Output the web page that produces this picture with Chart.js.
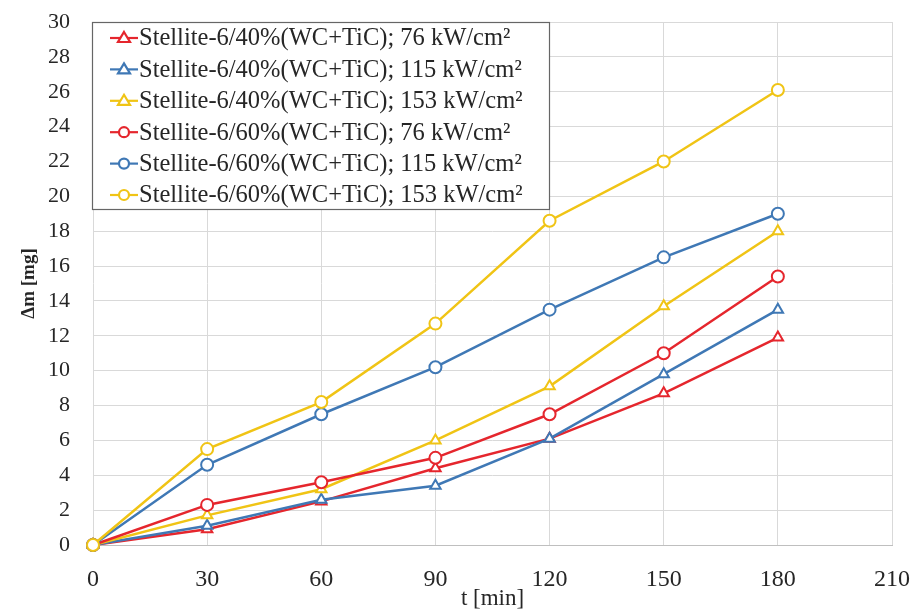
<!DOCTYPE html>
<html>
<head>
<meta charset="utf-8">
<script src="https://cdn.jsdelivr.net/npm/chart.js@4/dist/chart.umd.min.js"></script>
<style>
  html, body { margin: 0; padding: 0; background: #fff; }
  #wrap { width: 915px; height: 613px; position: relative; }
</style>
</head>
<body>
<div id="wrap"><canvas id="my"></canvas></div>
<script>
// time axis [min]
const times = [0, 30, 60, 90, 120, 150, 180];

// mass loss [mg]
const s40_76  = [0, 0.9, 2.5, 4.4, 6.1, 8.7, 11.9];
const s40_115 = [0, 1.1, 2.6, 3.4, 6.1, 9.8, 13.5];
const s40_153 = [0, 1.7, 3.2, 6.0, 9.1, 13.7, 18.0];
const s60_76  = [0, 2.3, 3.6, 5.0, 7.5, 11.0, 15.4];
const s60_115 = [0, 4.6, 7.5, 10.2, 13.5, 16.5, 19.0];
const s60_153 = [0, 5.5, 8.2, 12.7, 18.6, 22.0, 26.1];

const labels = [
  'Stellite-6/40%(WC+TiC); 76 kW/cm²',
  'Stellite-6/40%(WC+TiC); 115 kW/cm²',
  'Stellite-6/40%(WC+TiC); 153 kW/cm²',
  'Stellite-6/60%(WC+TiC); 76 kW/cm²',
  'Stellite-6/60%(WC+TiC); 115 kW/cm²',
  'Stellite-6/60%(WC+TiC); 153 kW/cm²'
];

const red = '#e5262d', blue = '#3f78b5', gold = '#f0c415';
const serif = '"Liberation Serif", "Times New Roman", serif';

function mk(label, vals, color, shape, idx) {
  return {
    label: label,
    data: times.map((t, i) => ({ x: t, y: vals[i] })),
    borderColor: color,
    backgroundColor: '#fff',
    borderWidth: 2.5,
    pointStyle: shape,
    pointRadius: 6,
    pointBorderWidth: 2,
    pointBackgroundColor: '#fff',
    pointBorderColor: color,
    tension: 0,
    clip: false,
    order: 5 - idx  // later series on top, as in the original
  };
}

// legend drawn inside the plot area (top-left), like the original
const innerLegend = {
  id: 'innerLegend',
  afterDraw(chart) {
    const c = chart.ctx, a = chart.chartArea;
    const x0 = a.left - 1, y0 = a.top, w = 457, rowH = 31.4, h = 187;
    c.save();
    c.fillStyle = '#fff';
    c.fillRect(x0, y0, w, h);
    c.strokeStyle = '#666';
    c.lineWidth = 1.2;
    c.strokeRect(x0 + 0.5, y0 + 0.5, w, h);
    c.font = '24.5px ' + serif;
    c.textBaseline = 'middle';
    chart.data.datasets.forEach((ds, i) => {
      const cy = y0 + 16 + i * rowH;
      const mx = x0 + 32;
      c.strokeStyle = ds.borderColor;
      c.lineWidth = 2.2;
      c.beginPath();
      c.moveTo(x0 + 18, cy);
      c.lineTo(x0 + 46, cy);
      c.stroke();
      c.fillStyle = '#fff';
      c.beginPath();
      if (ds.pointStyle === 'triangle') {
        c.moveTo(mx, cy - 6);
        c.lineTo(mx + 6, cy + 4);
        c.lineTo(mx - 6, cy + 4);
        c.closePath();
      } else {
        c.arc(mx, cy, 5, 0, Math.PI * 2);
      }
      c.fill();
      c.stroke();
      c.fillStyle = '#262626';
      c.fillText(ds.label, x0 + 47, cy + 1);
    });
    c.restore();
  }
};

const ctx = document.getElementById('my');

new Chart(ctx, {
  type: 'line',
  data: {
    datasets: [
      mk(labels[0], s40_76, red, 'triangle', 0),
      mk(labels[1], s40_115, blue, 'triangle', 1),
      mk(labels[2], s40_153, gold, 'triangle', 2),
      mk(labels[3], s60_76, red, 'circle', 3),
      mk(labels[4], s60_115, blue, 'circle', 4),
      mk(labels[5], s60_153, gold, 'circle', 5)
    ]
  },
  options: {
    responsive: true,
    maintainAspectRatio: false,
    animation: false,
    layout: { padding: { top: 22, right: 23, left: 0, bottom: 0 } },
    plugins: {
      legend: { display: false },
      tooltip: { enabled: false }
    },
    scales: {
      x: {
        type: 'linear',
        min: 0,
        max: 210,
        ticks: { stepSize: 30, color: '#262626', font: { family: serif, size: 24 }, padding: 20 },
        grid: { color: '#d9d9d9', lineWidth: 1, drawTicks: false },
        border: { color: '#bfbfbf' },
        title: { display: true, text: 't [min]', color: '#262626', font: { family: serif, size: 23 }, padding: { top: -5, bottom: 0 } },
        afterFit(s) { s.height = 68; s.paddingLeft = 0; s.paddingRight = 0; }
      },
      y: {
        min: 0,
        max: 30,
        ticks: { stepSize: 2, color: '#262626', font: { family: serif, size: 22 }, padding: 23 },
        grid: { color: '#d9d9d9', lineWidth: 1, drawTicks: false },
        border: { display: false },
        title: { display: true, text: 'Δm [mg]', color: '#262626', font: { family: serif, size: 19, weight: 'bold' }, padding: { top: 18, bottom: 0 } },
        afterFit(s) { s.width = 93; s.paddingTop = 0; s.paddingBottom = 0; }
      }
    }
  },
  plugins: [innerLegend]
});
</script>
</body>
</html>
